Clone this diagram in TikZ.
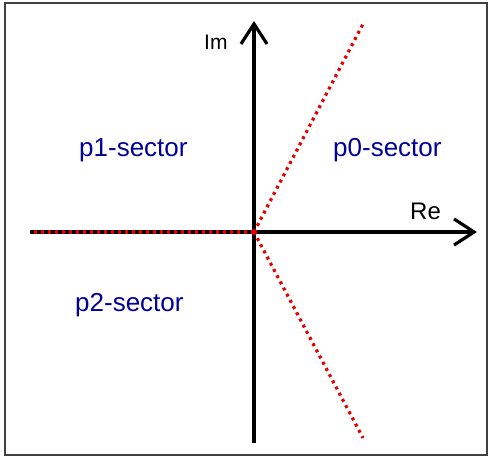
\documentclass[tikz,border=0pt]{standalone}
\usepackage{fontspec}
\setmainfont{Liberation Sans}
\usetikzlibrary{arrows.meta,positioning}

\begin{document}
\begin{tikzpicture}[
  x=1pt, y=1pt,
  frame/.style={draw=black!75, line width=2pt},
  axis/.style={draw=black, line width=3.2pt},
  axisArrow/.style={axis, -{Straight Barb[length=20pt, width=26pt, line width=3.2pt]}},
  border/.style={draw=red!90!black, line width=3.2pt, dash pattern=on 3pt off 4pt},
  sector/.style={anchor=base west, inner sep=0pt, text=blue!60!black,
    font=\fontsize{26}{31}\selectfont},
  axisLabel/.style={anchor=base west, inner sep=0pt}
]
  \useasboundingbox (0,0) rectangle (490,458);
  \draw[frame] (5,3) rectangle (487,455);

  \coordinate (origin) at (254,226);
  \coordinate (reEnd) at (477,226);
  \coordinate (reStart) at (30,226);
  \coordinate (imEnd) at (254,437);
  \coordinate (imStart) at (254,15);
  \coordinate (upEnd) at (363,434);
  \coordinate (downEnd) at (363,20);

  % axes
  \draw[axis] (reStart) -- (origin);
  \draw[axisArrow] (origin) -- (reEnd);
  \draw[axisArrow] (imStart) -- (imEnd);

  % sector borders
  \draw[border] (origin) -- (reStart);
  \draw[border] (origin) -- (upEnd);
  \draw[border] (origin) -- (downEnd);
  \fill[red!90!black] (origin) circle (3pt);

  \node[axisLabel, font=\fontsize{21}{25}\selectfont] (im) at (204,408) {Im};
  \node[axisLabel, font=\fontsize{24}{28}\selectfont] (re) at (410,238) {Re};

  \node[sector] (p0) at (333,301) {p0-sector};
  \node[sector] (p1) at (79,301) {p1-sector};
  \node[sector] (p2) at (75,146) {p2-sector};
\end{tikzpicture}
\end{document}
